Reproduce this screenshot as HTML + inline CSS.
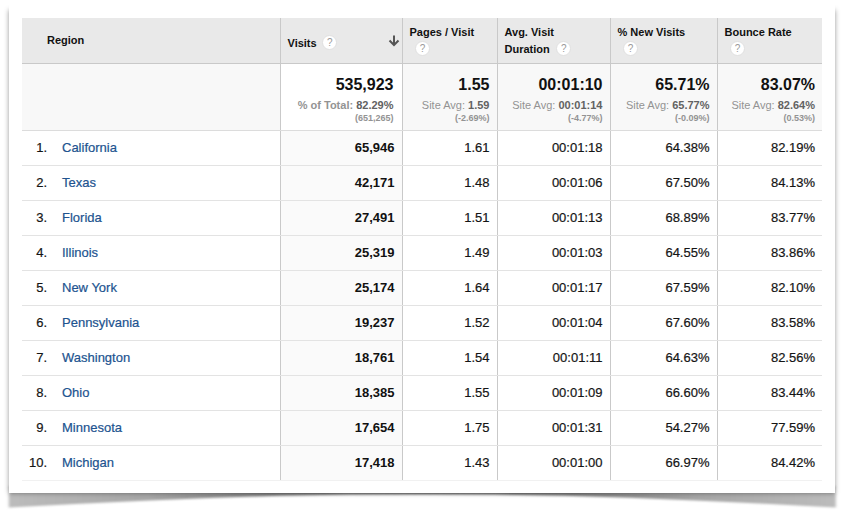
<!DOCTYPE html>
<html>
<head>
<meta charset="utf-8">
<title>Region report</title>
<style>
html,body{margin:0;padding:0;background:#fff;}
body{width:845px;height:520px;position:relative;overflow:hidden;font-family:"Liberation Sans",Arial,sans-serif;color:#222;}
#shadow{position:absolute;left:0;top:0;width:845px;height:520px;}
#sh{position:absolute;left:9px;top:10px;width:826px;height:483px;background:#888;box-shadow:0 0 5px rgba(0,0,0,.42);}
#card{position:absolute;left:9px;top:0;width:826px;height:493px;background:#fff;}
table{position:absolute;left:22px;top:18px;width:800px;border-collapse:collapse;table-layout:fixed;font-size:13px;}
col.c0{width:258px}col.c1{width:122px}col.c2{width:95px}col.c3{width:113px}col.c4{width:107px}col.c5{width:105px}
th,td{padding:0;margin:0;box-sizing:border-box;overflow:hidden;white-space:nowrap;}
thead th{height:45px;background:#e9e9e9;border-bottom:1px solid #c9c9c9;font-size:11px;font-weight:bold;text-align:left;vertical-align:top;color:#111;border-left:1px solid #c9c9c9;padding-left:7px;line-height:17px;padding-top:6px;}
thead th.first{border-left:none;padding-left:25px;padding-top:14px;}
thead th.visits{padding-top:17px;position:relative;}
.q{display:inline-block;width:15px;height:15px;border-radius:50%;background:#fff;border:1px solid #e0e0e0;box-sizing:border-box;color:#9a9a9a;font-size:10px;line-height:13px;text-align:center;font-weight:normal;vertical-align:middle;position:relative;top:-2px;padding-left:1px;}
tr.sum td{height:67px;background:#f8f8f8;border-left:1px solid #c9c9c9;border-bottom:1px solid #dcdcdc;text-align:right;vertical-align:top;padding-right:8px;}
tr.sum td.first{border-left:none;}
tr.sum td{padding-right:7px;}
tr.sum td.visits{background:#fff;padding-right:8px;}
.big{font-size:16px;font-weight:bold;color:#111;line-height:18px;margin-top:12px;}
.sub{font-size:11px;color:#939393;line-height:14px;margin-top:4px;}
.sub b{color:#626262;}
.sub.bold{font-weight:bold;}
.par{font-size:9px;color:#939393;font-weight:bold;line-height:11px;margin-top:1px;}
tbody tr.r td{height:35px;border-left:1px solid #c9c9c9;border-bottom:1px solid #e3e3e3;text-align:right;padding-right:7px;vertical-align:middle;color:#151515;-webkit-text-stroke:0.2px #151515;}
tbody tr.r td.first{border-left:none;text-align:left;padding:0;}
tbody tr.r td.visits{background:#fafafa;font-weight:bold;color:#111;-webkit-text-stroke:0;}
.n{display:inline-block;width:25px;text-align:right;color:#151515;}
.nm{display:inline-block;margin-left:15px;color:#21538f;-webkit-text-stroke:0.2px #21538f;}
tbody tr.r.last td{border-bottom:1px solid #f1f1f1;}
</style>
</head>
<body>
<svg id="shadow" width="845" height="520" viewBox="0 0 845 520">
  <defs>
    <filter id="bl" x="-5%" y="-50%" width="110%" height="200%"><feGaussianBlur stdDeviation="1.8 1.3"/></filter>
    <linearGradient id="sg" gradientUnits="userSpaceOnUse" x1="8" y1="0" x2="837" y2="0">
      <stop offset="0" stop-color="#bcbcbc"/><stop offset="0.171" stop-color="#a6a6a6"/><stop offset="0.328" stop-color="#7a7a7a"/><stop offset="0.5" stop-color="#5e5e5e"/>
      <stop offset="0.672" stop-color="#7a7a7a"/><stop offset="0.829" stop-color="#a6a6a6"/><stop offset="1" stop-color="#bcbcbc"/>
    </linearGradient>
  </defs>
  <path d="M9.5,486 L9.5,492.5 L8.8,492.5 L8.8,507.5 L80,503.8 L150,500.5 L215,497.8 L280,495.7 L350,494.6 L422.5,494.25 L495,494.6 L565,495.7 L630,497.8 L695,500.5 L765,503.8 L835.8,507.5 L835.8,492.5 L835,492.5 L835,486 Z" fill="url(#sg)" filter="url(#bl)"/>
</svg>
<div id="sh"></div>
<div id="card"></div>
<table>
<colgroup><col class="c0"><col class="c1"><col class="c2"><col class="c3"><col class="c4"><col class="c5"></colgroup>
<thead>
<tr>
<th class="first">Region</th>
<th class="visits">Visits <span class="q" style="margin-left:2px">?</span><svg style="position:absolute;right:2px;top:17px" width="12" height="13" viewBox="0 0 12 13"><path d="M6 0.4V9.2M1.5 5.5L6 10L10.5 5.5" fill="none" stroke="#555" stroke-width="2"/></svg></th>
<th>Pages / Visit<br><span class="q" style="margin-left:5px">?</span></th>
<th>Avg. Visit<br>Duration <span class="q" style="margin-left:3px">?</span></th>
<th>% New Visits<br><span class="q" style="margin-left:5px">?</span></th>
<th>Bounce Rate<br><span class="q" style="margin-left:5px">?</span></th>
</tr>
</thead>
<tbody>
<tr class="sum">
<td class="first"></td>
<td class="visits"><div class="big">535,923</div><div class="sub bold">% of Total: <b>82.29%</b></div><div class="par">(651,265)</div></td>
<td><div class="big">1.55</div><div class="sub">Site Avg: <b>1.59</b></div><div class="par">(-2.69%)</div></td>
<td><div class="big">00:01:10</div><div class="sub">Site Avg: <b>00:01:14</b></div><div class="par">(-4.77%)</div></td>
<td><div class="big">65.71%</div><div class="sub">Site Avg: <b>65.77%</b></div><div class="par">(-0.09%)</div></td>
<td><div class="big">83.07%</div><div class="sub">Site Avg: <b>82.64%</b></div><div class="par">(0.53%)</div></td>
</tr>
<tr class="r"><td class="first"><span class="n">1.</span><span class="nm">California</span></td><td class="visits">65,946</td><td>1.61</td><td>00:01:18</td><td>64.38%</td><td>82.19%</td></tr>
<tr class="r"><td class="first"><span class="n">2.</span><span class="nm">Texas</span></td><td class="visits">42,171</td><td>1.48</td><td>00:01:06</td><td>67.50%</td><td>84.13%</td></tr>
<tr class="r"><td class="first"><span class="n">3.</span><span class="nm">Florida</span></td><td class="visits">27,491</td><td>1.51</td><td>00:01:13</td><td>68.89%</td><td>83.77%</td></tr>
<tr class="r"><td class="first"><span class="n">4.</span><span class="nm">Illinois</span></td><td class="visits">25,319</td><td>1.49</td><td>00:01:03</td><td>64.55%</td><td>83.86%</td></tr>
<tr class="r"><td class="first"><span class="n">5.</span><span class="nm">New York</span></td><td class="visits">25,174</td><td>1.64</td><td>00:01:17</td><td>67.59%</td><td>82.10%</td></tr>
<tr class="r"><td class="first"><span class="n">6.</span><span class="nm">Pennsylvania</span></td><td class="visits">19,237</td><td>1.52</td><td>00:01:04</td><td>67.60%</td><td>83.58%</td></tr>
<tr class="r"><td class="first"><span class="n">7.</span><span class="nm">Washington</span></td><td class="visits">18,761</td><td>1.54</td><td>00:01:11</td><td>64.63%</td><td>82.56%</td></tr>
<tr class="r"><td class="first"><span class="n">8.</span><span class="nm">Ohio</span></td><td class="visits">18,385</td><td>1.55</td><td>00:01:09</td><td>66.60%</td><td>83.44%</td></tr>
<tr class="r"><td class="first"><span class="n">9.</span><span class="nm">Minnesota</span></td><td class="visits">17,654</td><td>1.75</td><td>00:01:31</td><td>54.27%</td><td>77.59%</td></tr>
<tr class="r last"><td class="first"><span class="n">10.</span><span class="nm">Michigan</span></td><td class="visits">17,418</td><td>1.43</td><td>00:01:00</td><td>66.97%</td><td>84.42%</td></tr>
</tbody>
</table>
</body>
</html>
